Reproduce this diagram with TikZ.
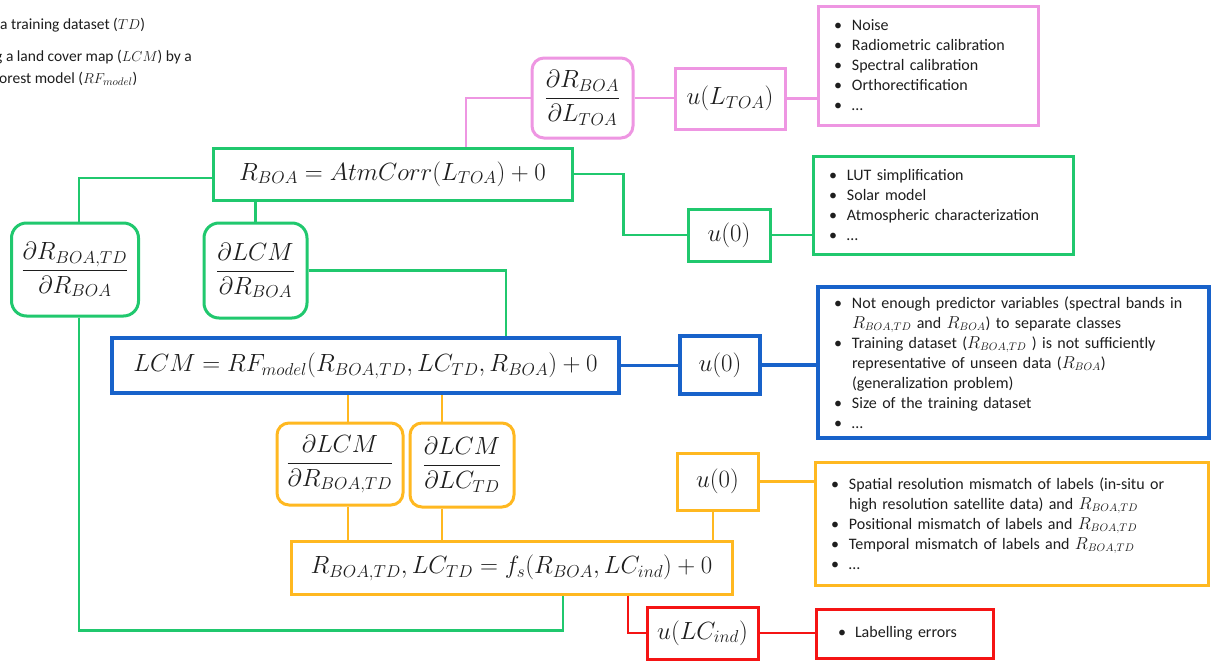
\documentclass[tikz,border=0pt]{standalone}
\usepackage[no-math]{fontspec}
\setmainfont{Carlito}
\usetikzlibrary{calc}
\definecolor{pinkc}{RGB}{238,150,226}
\definecolor{greenc}{RGB}{32,200,110}
\definecolor{bluec}{RGB}{24,98,202}
\definecolor{orangec}{RGB}{255,184,32}
\definecolor{redc}{RGB}{245,20,20}
\definecolor{txt}{RGB}{30,30,30}
\newcommand{\bitem}[1]{\makebox[18pt][l]{\textbullet}#1}
\newcommand{\bcont}[1]{\hspace*{18pt}#1}
\tikzset{
  mathbox/.style={draw, line width=3, inner sep=0, text=txt, font=\fontsize{27}{31}\selectfont},
  listbox/.style={draw, line width=3, inner xsep=16, inner ysep=0, align=left, text=txt, font=\fontsize{16}{20}\selectfont},
  conn/.style={line width=2.8},
}
\begin{document}
\begin{tikzpicture}[x=1pt,y=-1pt]
\fill[white] (0,0) rectangle (1216,664);
\useasboundingbox (0,0) rectangle (1216,664);
% top-left text
\node[anchor=west, inner sep=0, text=txt, font=\fontsize{15.5}{20}\selectfont] (t1) at (0,25) {a training dataset ($TD$)};
\node[anchor=west, inner sep=0, text=txt, font=\fontsize{15.5}{20}\selectfont] (t2) at (-5,57) {g a land cover map ($LCM$) by a};
\node[anchor=west, inner sep=0, text=txt, font=\fontsize{15.5}{20}\selectfont] (t3) at (-1,79) {orest model ($RF_{model}$)};
% pink
\node[mathbox, draw=pinkc, rounded corners=12, minimum width=101, minimum height=80] (dRL) at (582.5,98) {$\displaystyle\frac{\partial R_{BOA}}{\partial L_{TOA}}$};
\node[mathbox, draw=pinkc, minimum width=110, minimum height=61] (uL) at (730,98.5) {$u(L_{TOA})$};
\node[listbox, draw=pinkc, minimum width=220, minimum height=119, text width=188] (pl) at (928,65.5) {\bitem{Noise}\\ \bitem{Radiometric calibration}\\ \bitem{Spectral calibration}\\ \bitem{Orthorectification}\\ \bitem{\ldots}};
% green
\node[mathbox, draw=greenc, minimum width=359, minimum height=52] (R) at (392.5,174) {$R_{BOA} = AtmCorr(L_{TOA}) + 0$};
\node[mathbox, draw=greenc, rounded corners=15, minimum width=127, minimum height=93] (dRTD) at (75,269.5) {$\displaystyle\frac{\partial R_{BOA,TD}}{\partial R_{BOA}}$};
\node[mathbox, draw=greenc, rounded corners=15, minimum width=103, minimum height=95] (dLR) at (255.5,270.5) {$\displaystyle\frac{\partial LCM}{\partial R_{BOA}}$};
\node[mathbox, draw=greenc, minimum width=82, minimum height=52] (ug) at (729,235) {$u(0)$};
\node[listbox, draw=greenc, minimum width=260, minimum height=98, text width=228] (gl) at (943,205) {\bitem{LUT simplification}\\ \bitem{Solar model}\\ \bitem{Atmospheric characterization}\\ \bitem{\ldots}};
% blue
\node[mathbox, draw=bluec, line width=4, minimum width=507, minimum height=55] (LCM) at (365.5,365.5) {$LCM = RF_{model}(R_{BOA,TD}, LC_{TD}, R_{BOA}) + 0$};
\node[mathbox, draw=bluec, line width=4, minimum width=80, minimum height=58] (ub) at (720,365) {$u(0)$};
\node[listbox, draw=bluec, line width=4, minimum width=391, minimum height=151, text width=359] (bl) at (1013.5,362.5) {\bitem{Not enough predictor variables (spectral bands in}\\ \bcont{$R_{BOA,TD}$ and $R_{BOA}$) to separate classes}\\ \bitem{Training dataset ($R_{BOA,TD}$ ) is not sufficiently}\\ \bcont{representative of unseen data ($R_{BOA}$)}\\ \bcont{(generalization problem)}\\ \bitem{Size of the training dataset}\\ \bitem{\ldots}};
% orange
\node[mathbox, draw=orangec, rounded corners=12, minimum width=126, minimum height=82] (oa) at (340,464) {$\displaystyle\frac{\partial LCM}{\partial R_{BOA,TD}}$};
\node[mathbox, draw=orangec, rounded corners=12, minimum width=104, minimum height=84] (ob) at (462,465) {$\displaystyle\frac{\partial LCM}{\partial LC_{TD}}$};
\node[mathbox, draw=orangec, minimum width=81, minimum height=57] (uo) at (717.5,481.5) {$u(0)$};
\node[mathbox, draw=orangec, minimum width=441, minimum height=53] (fs) at (511.5,567.5) {$R_{BOA,TD}, LC_{TD} = f_s(R_{BOA}, LC_{ind}) + 0$};
\node[listbox, draw=orangec, minimum width=393, minimum height=123, text width=361] (ol) at (1011.5,523.5) {\bitem{Spatial resolution mismatch of labels (in-situ or}\\ \bcont{high resolution satellite data) and $R_{BOA,TD}$}\\ \bitem{Positional mismatch of labels and $R_{BOA,TD}$}\\ \bitem{Temporal mismatch of labels and $R_{BOA,TD}$}\\ \bitem{\ldots}};
% red
\node[mathbox, draw=redc, minimum width=111, minimum height=52] (ur) at (702.5,633) {$u(LC_{ind})$};
\node[listbox, draw=redc, inner xsep=22, minimum width=177, minimum height=49, text width=133] (rl) at (904.5,633.5) {\makebox[17pt][l]{\textbullet}Labelling errors};
% pink connectors
\draw[conn, pinkc, line width=2.4] (dRL.west) -| ([xshift=73.5]R.north);
\draw[conn, pinkc, line width=2.4] (dRL.east) -- (dRL.east -| uL.west);
\draw[conn, pinkc, line width=2.4] (uL.east) -- (uL.east -| pl.west);
% green connectors
\draw[conn, greenc] ([yshift=-4]R.west) -| ([xshift=4]dRTD.north);
\draw[conn, greenc] (R.south -| dLR.north) -- (dLR.north);
\draw[conn, greenc] (dLR.east) -| ([xshift=140.5]LCM.north);
\draw[conn, greenc] (R.east) -- ++(50,0) |- (ug.west);
\draw[conn, greenc] (ug.east) -- (ug.east -| gl.west);
\draw[conn, greenc] ([xshift=4]dRTD.south) |- ([xshift=51.5,yshift=-35]fs.south) -- ([xshift=51.5]fs.south);
% blue connectors
\draw[conn, bluec, line width=3.2] (LCM.east) -- (LCM.east -| ub.west);
\draw[conn, bluec, line width=3.2] (ub.east) -- (ub.east -| bl.west);
% orange connectors
\draw[conn, orangec] ([xshift=8]oa.north) -- ([xshift=8]oa.north |- LCM.south);
\draw[conn, orangec] ([xshift=-20]ob.north) -- ([xshift=-20]ob.north |- LCM.south);
\draw[conn, orangec] ([xshift=8]oa.south) -- ([xshift=8]oa.south |- fs.north);
\draw[conn, orangec] ([xshift=-20]ob.south) -- ([xshift=-20]ob.south |- fs.north);
\draw[conn, orangec] ([xshift=-4.5]uo.south) -- ([xshift=-4.5]uo.south |- fs.north);
\draw[conn, orangec] (uo.east) -- (uo.east -| ol.west);
% red connectors
\draw[conn, redc] ([xshift=116.5]fs.south) |- (ur.west);
\draw[conn, redc] (ur.east) -- (ur.east -| rl.west);
\end{tikzpicture}
\end{document}
